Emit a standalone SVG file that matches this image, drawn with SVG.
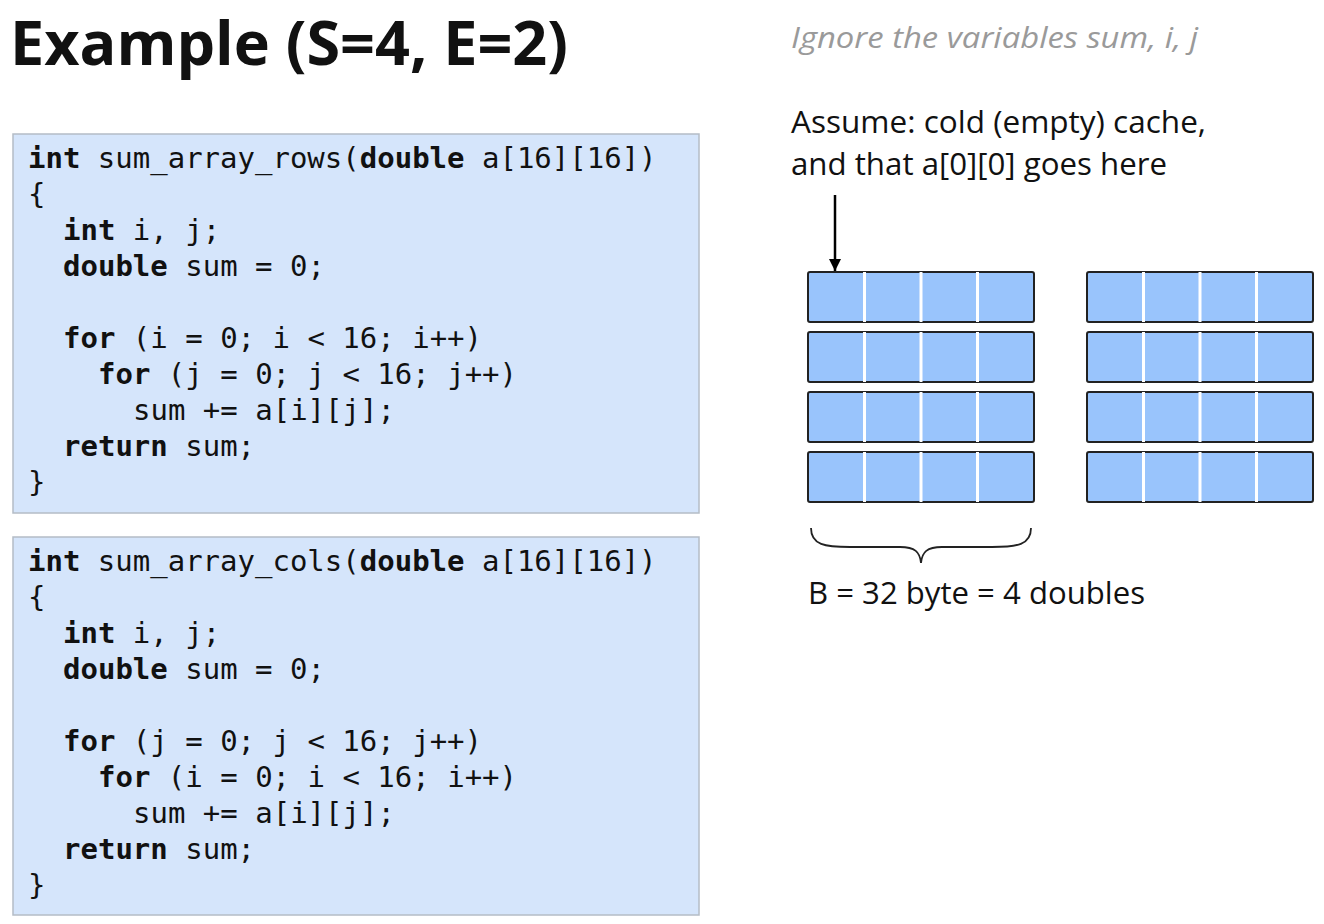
<svg xmlns="http://www.w3.org/2000/svg" width="1324" height="924" viewBox="0 0 1324 924">
<style>
.code{font-family:"DejaVu Sans Mono","Liberation Mono",monospace;font-size:29px;fill:#111}
.k{font-weight:bold}
.box{fill:#D5E5FB;stroke:#B4BCC6;stroke-width:1.5}
.cell{fill:#99C4FC;stroke:#222;stroke-width:2}
.div{stroke:#fff;stroke-width:3}
.txt{font-family:"Open Sans","Noto Sans",sans-serif;fill:#111}
</style>
<defs>
<marker id="ah" markerWidth="12" markerHeight="12" refX="10" refY="5" orient="auto" markerUnits="userSpaceOnUse" viewBox="0 0 10 10">
<path d="M0,0 L10,5 L0,10 z" fill="#000"/>
</marker>
<g id="row">
<rect class="cell" x="0" y="0" width="226" height="50" rx="2"/>
<line class="div" x1="56.5" y1="0" x2="56.5" y2="50"/>
<line class="div" x1="113" y1="0" x2="113" y2="50"/>
<line class="div" x1="169.5" y1="0" x2="169.5" y2="50"/>
</g>
</defs>
<rect width="1324" height="924" fill="#fff"/>
<g id="title">
<text class="txt" x="10" y="65" font-size="60" font-weight="bold" textLength="558" lengthAdjust="spacingAndGlyphs">Example (S=4, E=2)</text>
</g>
<g id="note">
<text class="txt" x="791" y="48" font-size="30" font-style="italic" style="fill:#9a9a9a" textLength="407" lengthAdjust="spacingAndGlyphs">Ignore the variables sum, i, j</text>
</g>
<g id="assume">
<text class="txt" x="791" y="133" font-size="31" textLength="415" lengthAdjust="spacingAndGlyphs">Assume: cold (empty) cache,</text>
<text class="txt" x="791" y="175" font-size="31" textLength="376" lengthAdjust="spacingAndGlyphs">and that a[0][0] goes here</text>
</g>
<g id="rows-code">
<rect class="box" x="13" y="134" width="686" height="379"/>
<text class="code" y="168"><tspan x="28" class="k">int</tspan><tspan> sum_array_rows(</tspan><tspan class="k">double</tspan><tspan> a[16][16])</tspan></text>
<text class="code" x="28" y="204">{</text>
<text class="code" y="240"><tspan x="63" class="k">int</tspan><tspan> i, j;</tspan></text>
<text class="code" y="276"><tspan x="63" class="k">double</tspan><tspan> sum = 0;</tspan></text>
<text class="code" y="348"><tspan x="63" class="k">for</tspan><tspan> (i = 0; i &lt; 16; i++)</tspan></text>
<text class="code" y="384"><tspan x="98" class="k">for</tspan><tspan> (j = 0; j &lt; 16; j++)</tspan></text>
<text class="code" x="133" y="420">sum += a[i][j];</text>
<text class="code" y="456"><tspan x="63" class="k">return</tspan><tspan> sum;</tspan></text>
<text class="code" x="28" y="492">}</text>
</g>
<g id="cols-code">
<rect class="box" x="13" y="537" width="686" height="378"/>
<text class="code" y="571"><tspan x="28" class="k">int</tspan><tspan> sum_array_cols(</tspan><tspan class="k">double</tspan><tspan> a[16][16])</tspan></text>
<text class="code" x="28" y="607">{</text>
<text class="code" y="643"><tspan x="63" class="k">int</tspan><tspan> i, j;</tspan></text>
<text class="code" y="679"><tspan x="63" class="k">double</tspan><tspan> sum = 0;</tspan></text>
<text class="code" y="751"><tspan x="63" class="k">for</tspan><tspan> (j = 0; j &lt; 16; j++)</tspan></text>
<text class="code" y="787"><tspan x="98" class="k">for</tspan><tspan> (i = 0; i &lt; 16; i++)</tspan></text>
<text class="code" x="133" y="823">sum += a[i][j];</text>
<text class="code" y="859"><tspan x="63" class="k">return</tspan><tspan> sum;</tspan></text>
<text class="code" x="28" y="895">}</text>
</g>
<g id="cache-set0">
<use href="#row" x="808" y="272"/>
<use href="#row" x="808" y="332"/>
<use href="#row" x="808" y="392"/>
<use href="#row" x="808" y="452"/>
</g>
<g id="cache-set1">
<use href="#row" x="1087" y="272"/>
<use href="#row" x="1087" y="332"/>
<use href="#row" x="1087" y="392"/>
<use href="#row" x="1087" y="452"/>
</g>
<g id="brace">
<path d="M811,528 C811,545 825,547 850,547 L900,547 C915,547 920,552 921,563 C922,552 927,547 942,547 L992,547 C1017,547 1031,545 1031,528" fill="none" stroke="#222" stroke-width="1.8"/>
<text class="txt" x="808" y="604" font-size="31" textLength="337" lengthAdjust="spacingAndGlyphs">B = 32 byte = 4 doubles</text>
</g>
<g id="connectors">
<line x1="835" y1="195" x2="835" y2="271" stroke="#000" stroke-width="2.5" marker-end="url(#ah)"/>
</g>
</svg>
